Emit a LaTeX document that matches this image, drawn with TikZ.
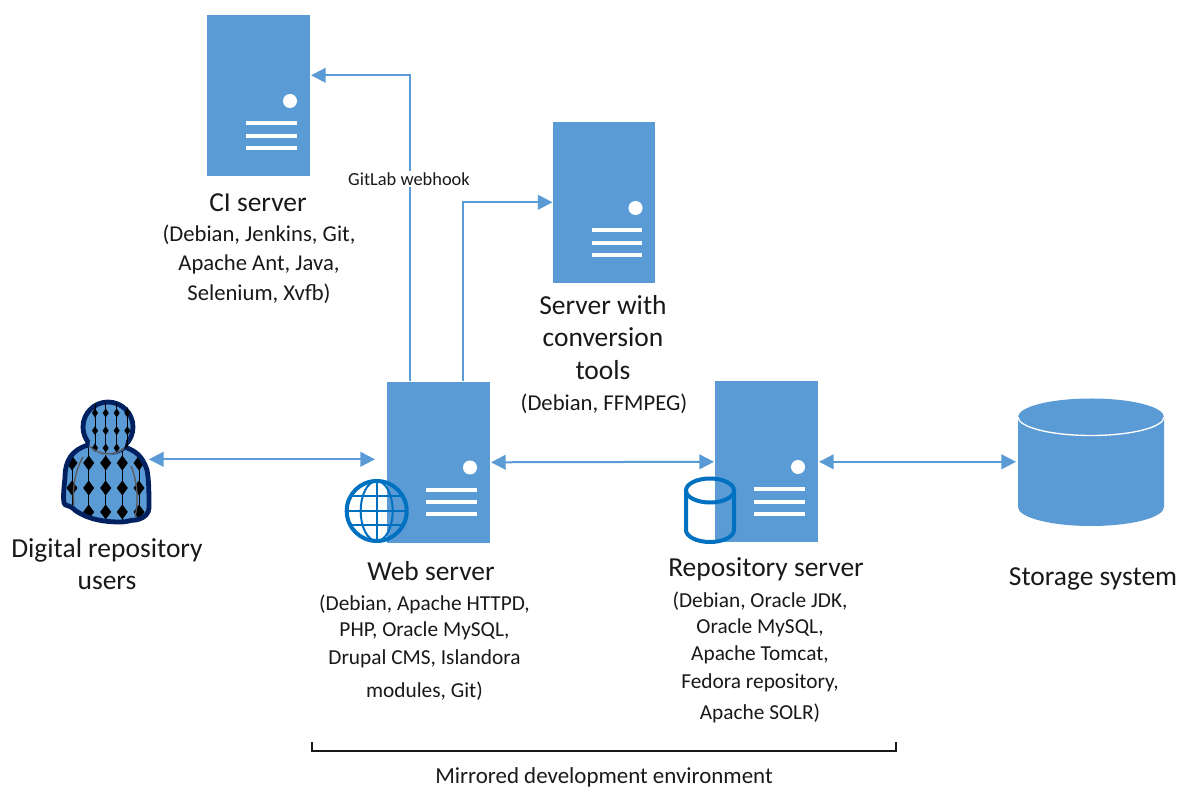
\documentclass[tikz,border=0pt]{standalone}
\usepackage{fontspec}
\setmainfont{Carlito}
\usetikzlibrary{arrows.meta,calc}
\definecolor{srv}{HTML}{5B9BD5}
\definecolor{ico}{HTML}{0070C0}
\definecolor{navy}{HTML}{002060}
\definecolor{coll}{HTML}{595959}
\newcommand{\bigtxt}{\fontsize{20.6}{24.5}\selectfont}
\newcommand{\smalltxt}{\fontsize{17.0}{21}\selectfont}
\newcommand{\smallertxt}{\fontsize{16.0}{21}\selectfont}
\tikzset{
  x=0.75pt,y=-0.75pt,
  serverbox/.style={fill=srv,draw=none,inner sep=0pt,minimum width=76.9pt,minimum height=120.8pt,anchor=north west},
  link/.style={draw=srv,line width=1.5pt,arrows={-Triangle[length=11pt,width=11pt]}},
  duplex/.style={draw=srv,line width=1.5pt,arrows={Triangle[length=11pt,width=11pt]-Triangle[length=11pt,width=11pt]}},
  bigl/.style={font=\bigtxt,align=center,text=black!90,inner sep=0pt},
  smalll/.style={font=\smalltxt,align=center,text=black!90,inner sep=0pt},
  smallerl/.style={font=\smallertxt,align=center,text=black!90,inner sep=0pt},
}
% server: node name, left, top
\newcommand{\serverpic}[3]{%
  \node[serverbox] (#1) at (#2,#3) {};
  \fill[white] ($(#2,#3)+(83,86)$) circle[radius=7];
  \foreach \yy in {108.5,121,133}{
    \fill[white] ($(#2,#3)+(39,\yy)-(0,2)$) rectangle ($(#2,#3)+(89.5,\yy)+(0,2)$);
  }
}
\newcommand{\bodypath}{(88,445) .. controls (72,450) and (65,460) .. (65,478)
  .. controls (63,495) and (63,505) .. (65.5,505)
  .. controls (72,507) and (73,508) .. (76,511)
  .. controls (90,520) and (105,522) .. (120,522)
  .. controls (128,522) and (130,520) .. (136,520)
  .. controls (145,518) and (149,513) .. (149,508)
  .. controls (149,495) and (149,480) .. (147,470)
  .. controls (142,455) and (135,451) .. (125,447)
  .. controls (115,455) and (100,455) .. (88,445) -- cycle}
\begin{document}
\begin{tikzpicture}
\useasboundingbox (0,0) rectangle (1179,787);
\fill[white] (0,0) rectangle (1179,787);

\serverpic{ci}{207}{15}
\serverpic{conv}{552.5}{122}
\serverpic{web}{387}{381.5}
\serverpic{repo}{715}{381}

% storage
\node[inner sep=0pt,minimum width=109.5pt,minimum height=84pt,anchor=north west] (store) at (1018,406) {};
\fill[srv] (1018,417) arc[start angle=180,end angle=360,x radius=73,y radius=18.5]
  -- (1164,507) arc[start angle=0,end angle=180,x radius=73,y radius=19] -- cycle;
\draw[white,line width=1pt] (1018,417) arc[start angle=180,end angle=0,x radius=73,y radius=18.5];

% person
\node[inner sep=0pt,minimum width=70pt,minimum height=95pt,anchor=north west] (user) at (62,395.7) {};
\begin{scope}
  \fill[srv] (108,427) circle[radius=25];
  \fill[srv] \bodypath;
  \clip \bodypath;
  \foreach \xx in {72,88.7,105.7,122.3,139}{
    \draw[black,line width=0.5pt] (\xx,440) -- (\xx,530);
    \foreach \yy in {463,488,512}{
      \fill[black] (\xx,\yy-7.5) -- (\xx+5.5,\yy) -- (\xx,\yy+7.5) -- (\xx-5.5,\yy) -- cycle;
    }
  }
\end{scope}
\draw[navy,line width=3.6pt] (108,427) circle[radius=25];
\draw[navy,line width=3.6pt,line join=round] \bodypath;
% neck: head and body open into one another
\fill[srv] (90,441) -- (126,441) -- (124,449) .. controls (115,457) and (100,457) .. (89,449) -- cycle;
\begin{scope}
  \clip (108,427) circle[radius=27.5];
  \clip (70,395) rectangle (145,455) ;
  \foreach \xx in {95,105.7,116.7,127.3}{
    \draw[black,line width=0.5pt] (\xx,403.5) -- (\xx,453);
    \foreach \yy in {413,430.7,448}{
      \fill[black] (\xx,\yy-4.5) -- (\xx+3,\yy) -- (\xx,\yy+4.5) -- (\xx-3,\yy) -- cycle;
    }
  }
\end{scope}
\draw[coll,line width=1pt] (89,446) .. controls (100,456) and (115,456) .. (124,448);
\draw[coll,line width=1pt] (83,457) .. controls (75,470) and (72,490) .. (74,505);
\draw[coll,line width=1pt] (131,466) .. controls (137,480) and (139,500) .. (135,517);

% globe
\begin{scope}[shift={(376.7,511)}]
  \node[inner sep=0pt,minimum size=48pt,circle] (globe) at (0,0) {};
  \draw[ico,line width=3pt] (0,0) circle[radius=30];
  \draw[ico,line width=1.5pt] (0,0) ellipse[x radius=16,y radius=30];
  \draw[ico,line width=1.5pt] (0,-30) -- (0,30);
  \draw[ico,line width=1.5pt] (-30,0) -- (30,0);
  \draw[ico,line width=1.5pt] (-25.5,-14.5) -- (25.5,-14.5);
  \draw[ico,line width=1.5pt] (-25.5,14.5) -- (25.5,14.5);
\end{scope}

% cylinder
\node[inner sep=0pt,minimum width=36pt,minimum height=38pt,anchor=north west] (cyl) at (686,478) {};
\draw[ico,line width=3pt] (710,490.5) ellipse[x radius=24,y radius=12];
\draw[ico,line width=3pt] (686,490.5) -- (686,530) arc[start angle=180,end angle=0,x radius=24,y radius=12] -- (734,490.5);

% connectors
\draw[link] ([shift={(23,0)}]web.north west) |- ([shift={(1,-20.5)}]ci.east);
\draw[link] ([shift={(76,0)}]web.north west) |- ([shift={(0,-0.5)}]conv.west);
\draw[duplex] ([shift={(-7,0)}]user.east) -- ([shift={(-12,0)}]user.east -| web.west);
\draw[duplex] ([shift={(1,0)}]web.east) -- ([shift={(-1,0)}]repo.west);
\draw[duplex] ([shift={(1,0)}]repo.east) -- ([shift={(-2,0)}]repo.east -| store.west);

\node[font=\fontsize{13.8}{15}\selectfont,fill=white,inner sep=1pt,text=black!90] (hook) at (409,179) {GitLab webhook};

% labels
\node[bigl] (t1) at (258,203) {CI server};
\node[smalll] (t2) at (259,264) {(Debian, Jenkins, Git,\\[1pt]Apache Ant, Java,\\[1.2pt]Selenium, Xvfb)};
\node[bigl] (t3) at (603,337.5) {Server with\\conversion\\tools};
\node[smalll] (t4) at (604,404) {(Debian, FFMPEG)};
\node[bigl] (t5) at (431,571) {Web server};
\node[smallerl] (t6) at (424.5,647.5) {(Debian, Apache HTTPD,\\[-1.5pt]PHP, Oracle MySQL,\\[0.5pt]Drupal CMS, Islandora\\[3.5pt]modules, Git)};
\node[bigl] (t7) at (766,569) {Repository server};
\node[smallerl] (t8) at (760,657.5) {(Debian, Oracle JDK,\\[-1pt]Oracle MySQL,\\[-1pt]Apache Tomcat,\\[0pt]Fedora repository,\\[2.5pt]Apache SOLR)};
\node[bigl] (t9) at (1093,579) {Storage system};
\node[bigl] (t10) at (107,564) {Digital repository\\users};
\node[font=\fontsize{17.2}{19}\selectfont,text=black!90,inner sep=0pt] (t11) at (604,777) {Mirrored development environment};

% bracket
\coordinate (bl) at (312,742);
\coordinate (br) at (896,742);
\draw[black!90,line width=1.1pt] (bl) -- ++(0,9) -- ($(br)+(0,9)$) -- (br);
\end{tikzpicture}
\end{document}
